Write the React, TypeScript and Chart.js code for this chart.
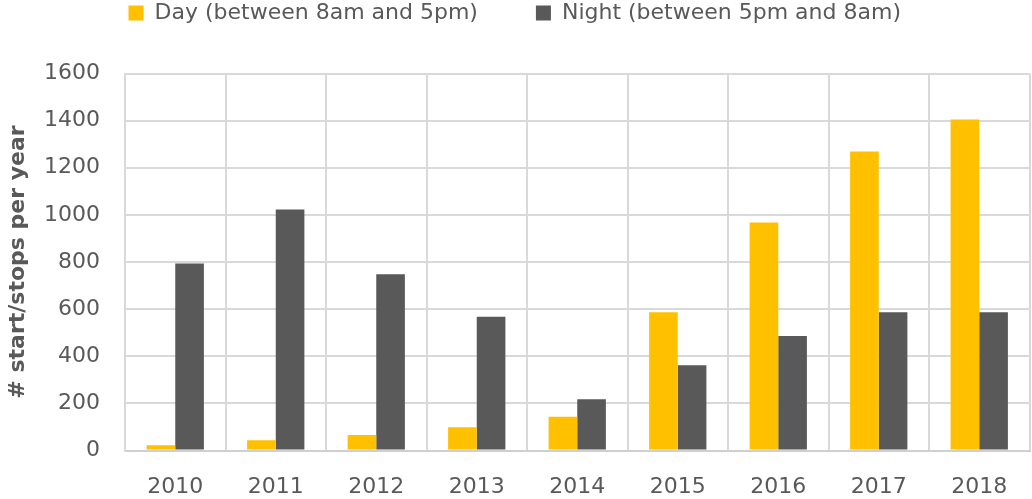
import React, { useEffect, useRef } from "react";
import { Chart, registerables } from "chart.js";

Chart.register(...registerables);

const years = ["2010", "2011", "2012", "2013", "2014", "2015", "2016", "2017", "2018"];
const dayValues = [22, 44, 66, 99, 143, 587, 968, 1269, 1405];
const nightValues = [794, 1023, 748, 568, 218, 362, 486, 587, 587];
const seriesNames = ["Day (between 8am and 5pm)", "Night (between 5pm and 8am)"];
const yTitle = "# start/stops per year";

const FONT = "'DejaVu Sans', 'Liberation Sans', sans-serif";
const TEXT = "#595959";
const GRID = "#d9d9d9";

const legendSpacer = {
  id: "legendSpacer",
  afterInit(chart: any) {
    const lg = chart.legend;
    if (!lg || lg.__patched) return;
    const orig = lg.fit;
    lg.fit = function () {
      orig.call(this);
      this.height = 129.5;
    };
    lg.__patched = true;
  },
};

export default function App() {
  const ref = useRef<HTMLCanvasElement>(null);

  useEffect(() => {
    if (!ref.current) return;
    const chart = new Chart(ref.current, {
      type: "bar",
      data: {
        labels: years,
        datasets: [
          { label: seriesNames[0], data: dayValues, backgroundColor: "#FFC000", borderWidth: 0 },
          { label: seriesNames[1], data: nightValues, backgroundColor: "#595959", borderWidth: 0 },
        ],
      },
      plugins: [legendSpacer],
      options: {
        animation: false,
        responsive: false,
        maintainAspectRatio: false,
        layout: { padding: { top: -56, left: 0, right: 2.5, bottom: 0 } },
        datasets: { bar: { categoryPercentage: 0.57, barPercentage: 1.0 } },
        plugins: {
          tooltip: { enabled: false },
          legend: {
            position: "top",
            align: "center",
            labels: {
              boxWidth: 15,
              boxHeight: 15,
              padding: 58,
              color: TEXT,
              font: { family: FONT, size: 22 },
            },
          },
        },
        scales: {
          x: {
            grid: { color: GRID, lineWidth: 2, drawTicks: false, offset: true },
            border: { color: "#cfcfcf", width: 2 },
            ticks: { color: TEXT, font: { family: FONT, size: 22 }, padding: 24 },
            afterFit: (s: any) => {
              s.height = 48.5;
            },
          },
          y: {
            min: 0,
            max: 1600,
            ticks: {
              stepSize: 200,
              color: TEXT,
              font: { family: FONT, size: 22 },
              padding: 25,
              callback: (v: any) => String(v),
            },
            grid: { color: GRID, lineWidth: 2, drawTicks: false },
            border: { color: GRID, width: 2 },
            title: {
              display: true,
              text: yTitle,
              color: TEXT,
              font: { family: FONT, size: 22, weight: "bold" },
              padding: { top: 5, bottom: 0 },
            },
            afterFit: (s: any) => {
              s.width = 125;
            },
          },
        },
      },
    });
    return () => chart.destroy();
  }, []);

  return (
    <div style={{ position: "fixed", left: 0, top: 0, width: 1032, height: 499, background: "#fff" }}>
      <canvas ref={ref} width={1032} height={499} style={{ display: "block" }} />
    </div>
  );
}
